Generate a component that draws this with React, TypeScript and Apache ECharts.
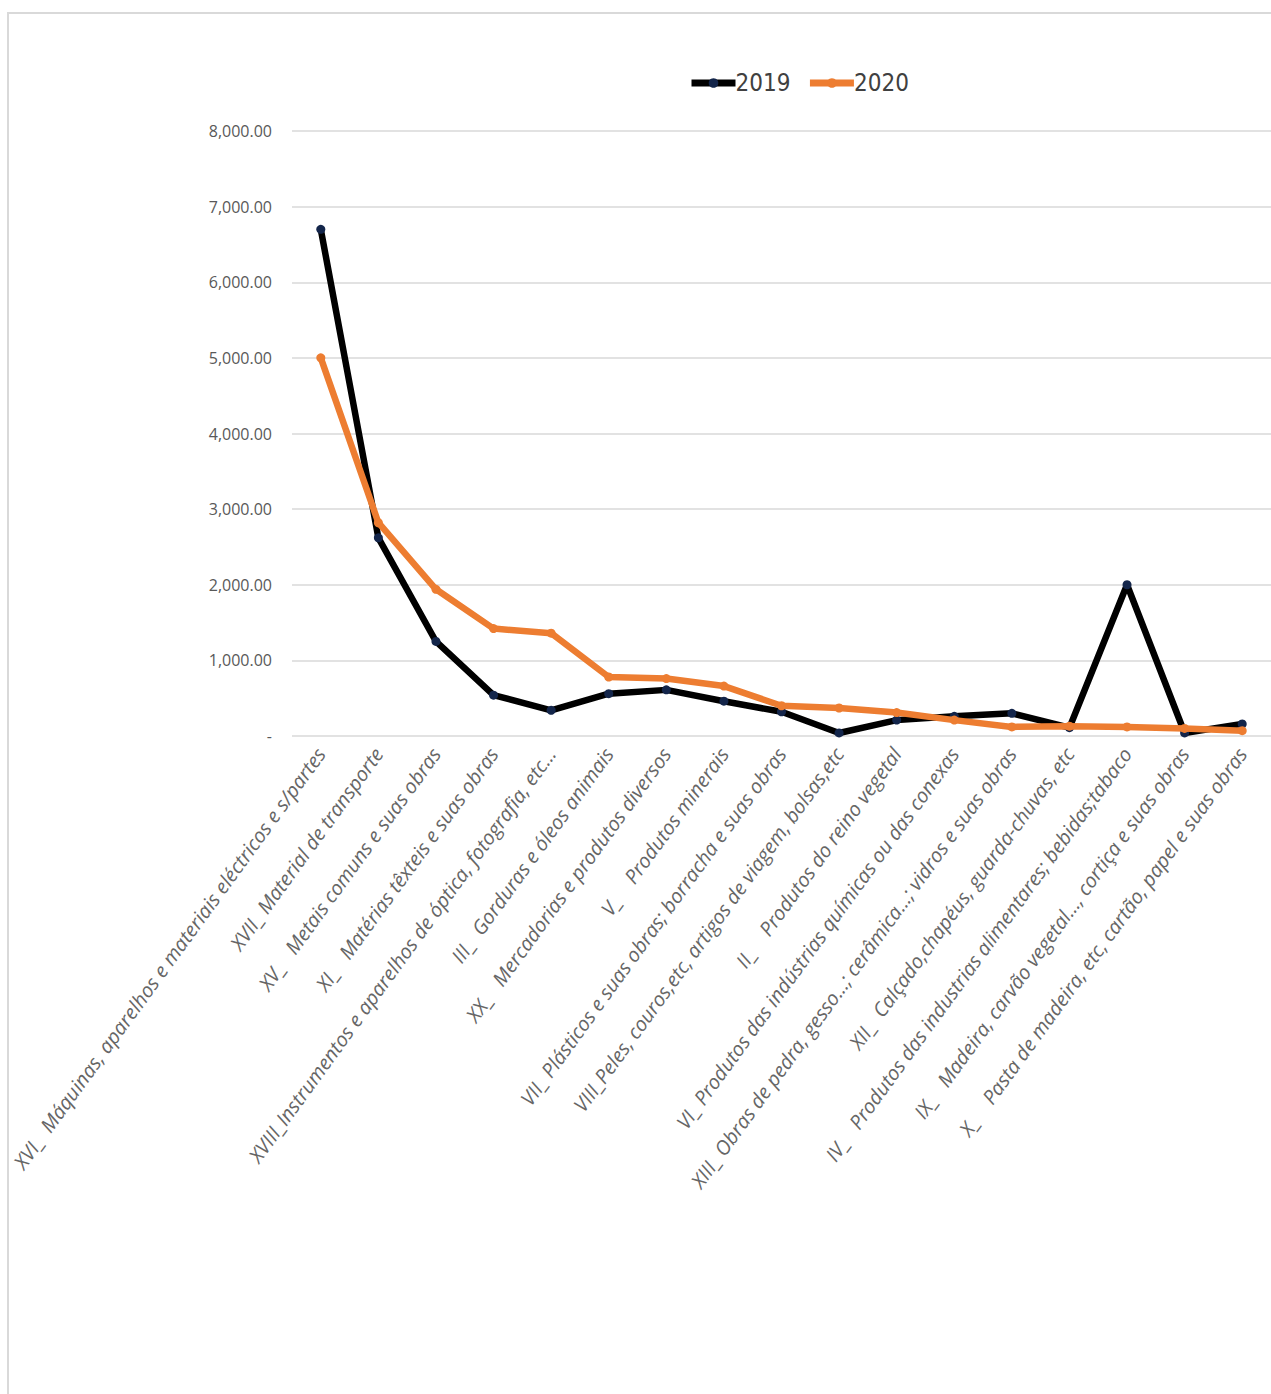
import React, { useEffect, useRef } from "react";
import * as echarts from "echarts";

const categories: string[] = [
  "XVI_  Máquinas, aparelhos e materiais eléctricos e s/partes",
  "XVII_ Material de transporte",
  "XV_   Metais comuns e suas obras",
  "XI_   Matérias têxteis e suas obras",
  "XVIII_Instrumentos e aparelhos de óptica, fotografia, etc...",
  "III_  Gorduras e óleos animais",
  "XX_   Mercadorias e produtos diversos",
  "V_    Produtos minerais",
  "VII_ Plásticos e suas obras; borracha e suas obras",
  "VIII_Peles, couros,etc, artigos de viagem, bolsas,etc",
  "II_    Produtos do reino vegetal",
  "VI_ Produtos das indústrias químicas ou das conexas",
  "XIII_ Obras de pedra, gesso...; cerâmica...; vidros e suas obras",
  "XII_  Calçado,chapéus, guarda-chuvas, etc",
  "IV_   Produtos das industrias alimentares; bebidas;tabaco",
  "IX_   Madeira, carvão vegetal..., cortiça e suas obras",
  "X_    Pasta de madeira, etc, cartão, papel e suas obras",
];

const values2019: number[] = [6700, 2620, 1250, 540, 340, 560, 610, 460, 320, 40, 210, 260, 300, 110, 2000, 40, 160];
const values2020: number[] = [5000, 2820, 1940, 1420, 1360, 780, 760, 660, 400, 370, 310, 210, 120, 130, 120, 100, 70];

const yMin = 0;
const yMax = 8000;
const yInterval = 1000;

function fmt(v: number): string {
  if (v === 0) return "-";
  return v.toLocaleString("en-US", { minimumFractionDigits: 2, maximumFractionDigits: 2 });
}

export default function App() {
  const ref = useRef<HTMLDivElement>(null);
  useEffect(() => {
    if (!ref.current) return;
    const chart = echarts.init(ref.current, undefined, { renderer: "svg" });
    const grey = "#595959";
    chart.setOption({
      animation: false,
      backgroundColor: "#ffffff",
      graphic: [
        {
          type: "polyline",
          shape: { points: [[8, 1394], [8, 13], [1271, 13]] },
          style: { stroke: "#d9d9d9", lineWidth: 2, fill: "none" },
          silent: true,
        },
      ],
      legend: {
        left: 683,
        top: 66,
        itemWidth: 44,
        itemHeight: 12,
        itemGap: 16,
        lineStyle: { width: 7 },
        textStyle: {
          color: "#404040",
          fontSize: 24,
          fontFamily: "Liberation Sans Narrow, DejaVu Sans Condensed, Roboto, sans-serif",
          padding: [0, 0, 0, -5],
        },
        data: ["2019", "2020"],
      },
      grid: {
        left: 292,
        right: 0,
        top: 131,
        height: 605,
        containLabel: false,
        outerBoundsMode: "none",
      },
      xAxis: {
        type: "category",
        data: categories,
        boundaryGap: true,
        axisLine: { show: false },
        axisTick: { show: false },
        axisLabel: {
          interval: 0,
          rotate: 54,
          margin: 14,
          color: "#666666",
          fontSize: 20,
          fontStyle: "italic",
          fontFamily: "Open Sans, Liberation Sans, sans-serif",
        },
      },
      yAxis: {
        type: "value",
        min: yMin,
        max: yMax,
        interval: yInterval,
        axisLine: { show: false },
        axisTick: { show: false },
        splitLine: { lineStyle: { color: "#d9d9d9", width: 1.5 } },
        axisLabel: {
          color: grey,
          fontSize: 16,
          margin: 20,
          fontFamily: "Open Sans, Liberation Sans, sans-serif",
          formatter: (v: number) => fmt(v),
        },
      },
      series: [
        {
          name: "2019",
          type: "line",
          data: values2019,
          symbol: "circle",
          symbolSize: 9,
          showSymbol: true,
          lineStyle: { color: "#000000", width: 6.5 },
          itemStyle: { color: "#13254a" },
          z: 2,
        },
        {
          name: "2020",
          type: "line",
          data: values2020,
          symbol: "circle",
          symbolSize: 9,
          showSymbol: true,
          lineStyle: { color: "#ed7d31", width: 6.5 },
          itemStyle: { color: "#ed7d31" },
          z: 3,
        },
      ],
    });
    return () => chart.dispose();
  }, []);
  return (
    <div
      ref={ref}
      style={{ position: "absolute", left: 0, top: 0, width: 1271, height: 1394 }}
    />
  );
}
